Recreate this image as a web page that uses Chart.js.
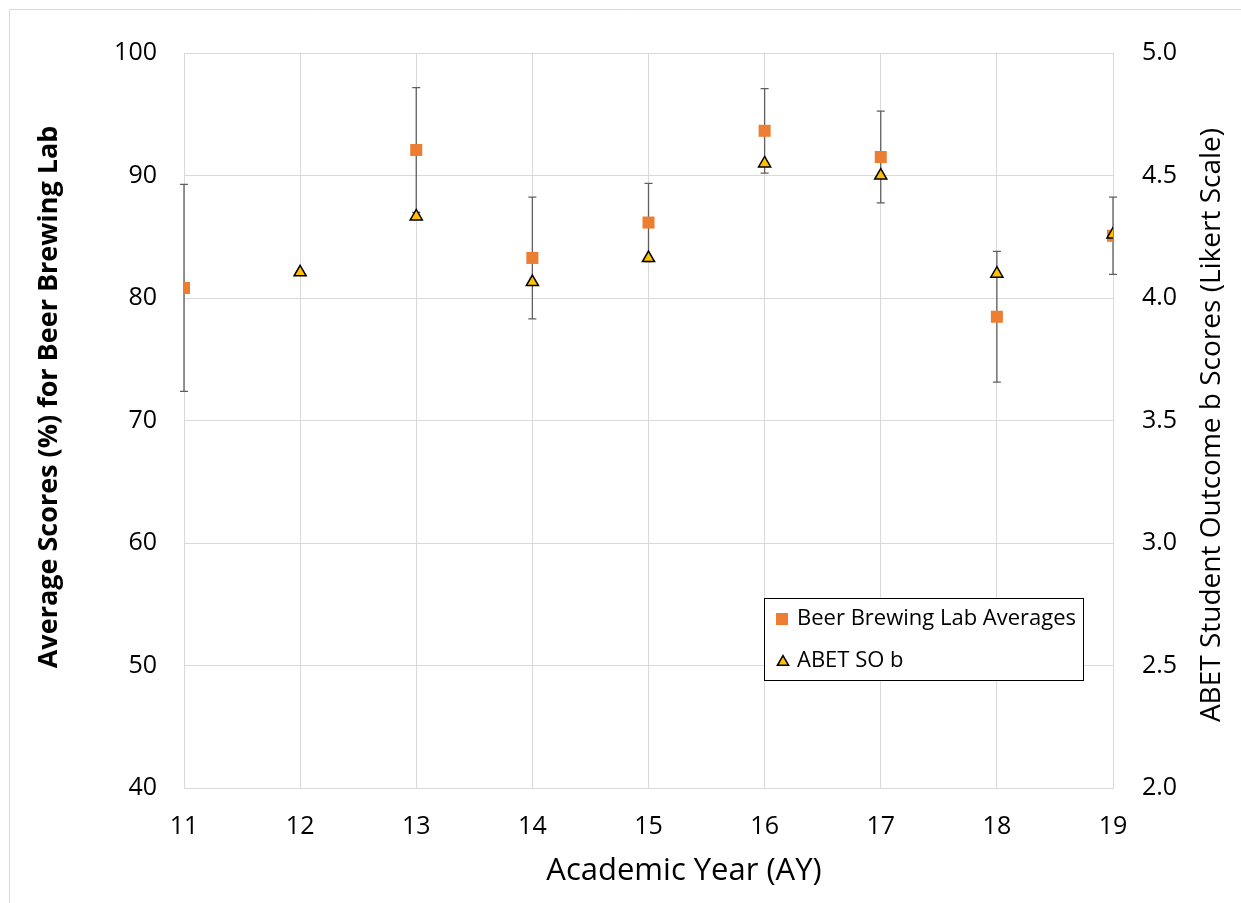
<!DOCTYPE html>
<html><head><meta charset="utf-8">
<script src="https://cdn.jsdelivr.net/npm/chart.js@4"></script>
<style>html,body{margin:0;padding:0;background:#fff}canvas{display:block}</style>
</head><body>
<canvas id="c" width="1241" height="903" style="width:1241px;height:903px"></canvas>
<script>
// ---- data ----
const years = [11, 12, 13, 14, 15, 16, 17, 18, 19];
const labAvg = [80.82, null, 92.08, 83.27, 86.16, 93.65, 91.51, 78.47, 85.08];
const labErr = [8.45, null, 5.1, 4.97, 3.19, 3.45, 3.75, 5.34, 3.15];
const abetSO = [null, 4.105, 4.333, 4.065, 4.163, 4.549, 4.50, 4.099, 4.259];
const leftTicks = [40, 50, 60, 70, 80, 90, 100];
const rightTicks = [2.0, 2.5, 3.0, 3.5, 4.0, 4.5, 5.0];
const xTicks = [11, 12, 13, 14, 15, 16, 17, 18, 19];
const leftTitle = 'Average Scores (%) for Beer Brewing Lab';
const rightTitle = 'ABET Student Outcome b Scores (Likert Scale)';
const xTitle = 'Academic Year (AY)';
const seriesNames = ['Beer Brewing Lab Averages', 'ABET SO b'];

const FONT = '"Open Sans", sans-serif';
const ORANGE = '#ED7D31', GOLD = '#FFC000', GRID = '#d9d9d9';

const labPts = years.map((x, i) => ({x, y: labAvg[i]})).filter(p => p.y !== null);
const abetPts = years.map((x, i) => ({x, y: abetSO[i]})).filter(p => p.y !== null);

function drawTri(ctx, x, y, r) {
  ctx.beginPath();
  ctx.moveTo(x, y - r);
  ctx.lineTo(x + r * Math.sin(2 * Math.PI / 3), y + r / 2);
  ctx.lineTo(x - r * Math.sin(2 * Math.PI / 3), y + r / 2);
  ctx.closePath();
  ctx.fillStyle = GOLD; ctx.fill();
  ctx.lineWidth = 1.5; ctx.strokeStyle = '#000'; ctx.stroke();
}

const errorBars = {
  id: 'errorBars',
  beforeDatasetsDraw(chart) {
    const ctx = chart.ctx, xs = chart.scales.x, ys = chart.scales.y;
    ctx.save();
    ctx.strokeStyle = '#5f5f5f'; ctx.lineWidth = 1.3;
    years.forEach((yr, i) => {
      if (labAvg[i] === null || labErr[i] === null) return;
      const x = xs.getPixelForValue(yr);
      const y1 = ys.getPixelForValue(labAvg[i] + labErr[i]);
      const y2 = ys.getPixelForValue(labAvg[i] - labErr[i]);
      ctx.beginPath();
      ctx.moveTo(x, y1); ctx.lineTo(x, y2);
      ctx.moveTo(x - 4, y1); ctx.lineTo(x + 4, y1);
      ctx.moveTo(x - 4, y2); ctx.lineTo(x + 4, y2);
      ctx.stroke();
    });
    ctx.restore();
  }
};

function rotText(ctx, text, x, y, font) {
  ctx.save();
  ctx.font = font; ctx.fillStyle = '#000';
  ctx.textAlign = 'center'; ctx.textBaseline = 'alphabetic';
  ctx.translate(x, y); ctx.rotate(-Math.PI / 2);
  ctx.fillText(text, 0, 0);
  ctx.restore();
}

const extras = {
  id: 'extras',
  afterDraw(chart) {
    const ctx = chart.ctx;
    ctx.save();
    // outer frame (top & left)
    ctx.strokeStyle = GRID; ctx.lineWidth = 1;
    ctx.beginPath(); ctx.moveTo(9.5, 903); ctx.lineTo(9.5, 9.5); ctx.lineTo(1241, 9.5); ctx.stroke();
    ctx.restore();
    // axis titles
    rotText(ctx, leftTitle, 57, 397, 'bold 27px ' + FONT);
    rotText(ctx, rightTitle, 1220, 425, '28px ' + FONT);
    ctx.save();
    ctx.font = '31px ' + FONT; ctx.fillStyle = '#000';
    ctx.textAlign = 'center'; ctx.textBaseline = 'alphabetic';
    ctx.fillText(xTitle, 684, 880);
    ctx.restore();
    // legend
    ctx.save();
    ctx.fillStyle = '#fff';
    ctx.fillRect(764.5, 598.5, 319, 82);
    ctx.strokeStyle = '#000'; ctx.lineWidth = 1;
    ctx.strokeRect(764.5, 598.5, 319, 82);
    ctx.fillStyle = ORANGE;
    ctx.fillRect(776, 613, 12, 12);
    drawTri(ctx, 783, 662, 6.5);
    ctx.fillStyle = '#000';
    ctx.font = '22px ' + FONT;
    ctx.textAlign = 'left'; ctx.textBaseline = 'middle';
    ctx.fillText(seriesNames[0], 797, 619);
    ctx.fillText(seriesNames[1], 797, 661);
    ctx.restore();
  }
};

new Chart(document.getElementById('c'), {
  type: 'scatter',
  data: {
    datasets: [
      {label: seriesNames[0], data: labPts, yAxisID: 'y', pointStyle: 'rect', radius: 8.5, hoverRadius: 8.5,
       backgroundColor: ORANGE, borderColor: ORANGE, borderWidth: 0, order: 2},
      {label: seriesNames[1], data: abetPts, yAxisID: 'y2', pointStyle: 'triangle', radius: 7, hoverRadius: 7,
       backgroundColor: GOLD, borderColor: '#000', borderWidth: 1.5, order: 1}
    ]
  },
  options: {
    responsive: false, animation: false, devicePixelRatio: 1,
    layout: {padding: {top: 53, left: 0, right: 0, bottom: 0}},
    plugins: {legend: {display: false}, tooltip: {enabled: false}},
    scales: {
      x: {
        type: 'linear', min: 11, max: 19,
        afterBuildTicks: s => { s.ticks = xTicks.map(v => ({value: v})); },
        afterFit: s => { s.height = 115; },
        grid: {color: GRID, lineWidth: 1, drawTicks: false},
        border: {color: GRID, width: 1},
        ticks: {color: '#000', font: {family: FONT, size: 25}, padding: 24, maxRotation: 0}
      },
      y: {
        position: 'left', min: 40, max: 100,
        afterBuildTicks: s => { s.ticks = leftTicks.map(v => ({value: v})); },
        afterFit: s => { s.width = 184; },
        grid: {color: GRID, lineWidth: 1, drawTicks: false},
        border: {color: GRID, width: 1},
        ticks: {color: '#000', font: {family: FONT, size: 25}, padding: 27}
      },
      y2: {
        position: 'right', min: 2, max: 5,
        afterBuildTicks: s => { s.ticks = rightTicks.map(v => ({value: v})); },
        afterFit: s => { s.width = 128; },
        grid: {display: false, drawTicks: false},
        border: {color: GRID, width: 1},
        ticks: {color: '#000', font: {family: FONT, size: 25}, padding: 29, callback: v => Number(v).toFixed(1)}
      }
    }
  },
  plugins: [errorBars, extras]
});
</script>
</body></html>
